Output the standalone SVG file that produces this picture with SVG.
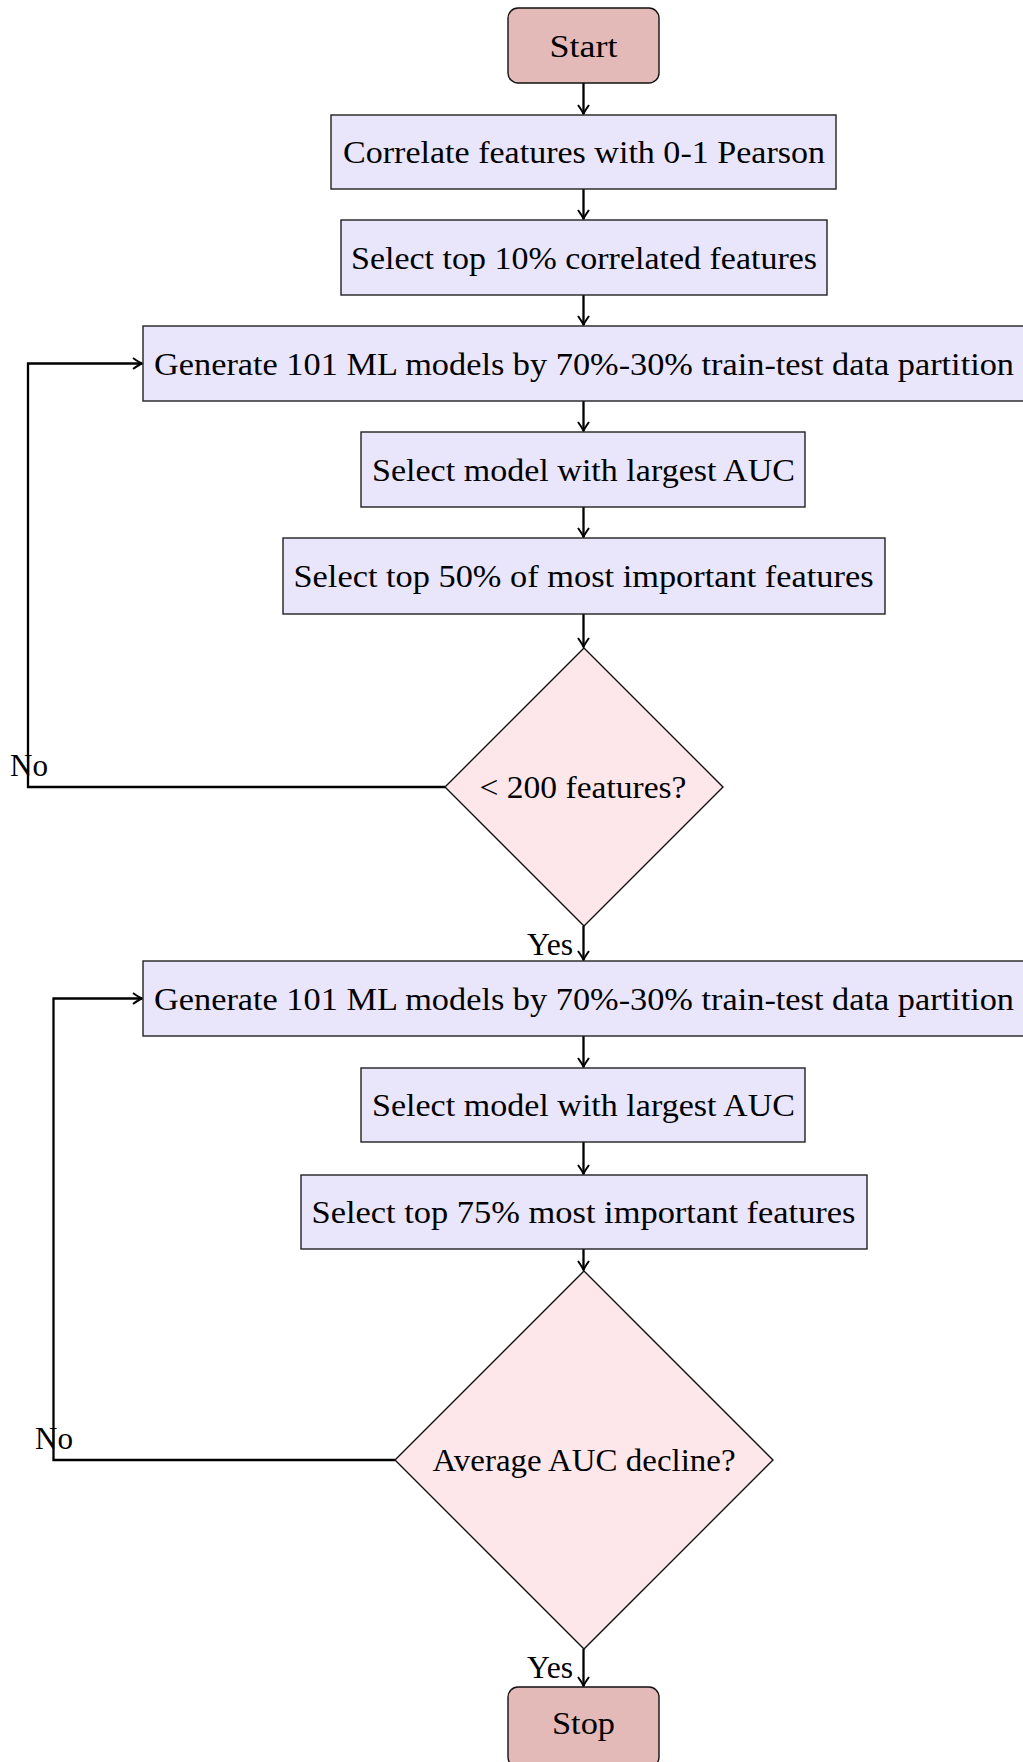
<svg xmlns="http://www.w3.org/2000/svg" width="1023" height="1762" viewBox="0 0 1023 1762">
<style>
.proc{fill:#E9E5FB;stroke:#222;stroke-width:1.4}
.term{fill:#E4BAB9;stroke:#111;stroke-width:1.4}
.dec{fill:#FDE7EA;stroke:#111;stroke-width:1.4}
.t{font-family:"Liberation Serif","Times New Roman",serif;font-size:32px;fill:#000}
.c{text-anchor:middle}
.e{fill:none;stroke:#000;stroke-width:2.3}
</style>
<defs>
<marker id="arr" markerUnits="userSpaceOnUse" markerWidth="16" markerHeight="16" viewBox="-12 -8 16 16" refX="0" refY="0" orient="auto">
<path d="M-9,-5.5 Q-3,-1.2 0,0 Q-3,1.2 -9,5.5" fill="none" stroke="#000" stroke-width="2"/>
</marker>
</defs>
<rect width="1023" height="1762" fill="#fff"/>
<g id="connectors">
<path class="e" marker-end="url(#arr)" d="M583.5,83 V114"/>
<path class="e" marker-end="url(#arr)" d="M583.5,189 V219"/>
<path class="e" marker-end="url(#arr)" d="M583.5,295 V325"/>
<path class="e" marker-end="url(#arr)" d="M583.5,401 V431"/>
<path class="e" marker-end="url(#arr)" d="M583.5,507 V537"/>
<path class="e" marker-end="url(#arr)" d="M583.5,614 V647"/>
<path class="e" marker-end="url(#arr)" d="M583.5,926 V960"/>
<path class="e" marker-end="url(#arr)" d="M583.5,1036 V1067"/>
<path class="e" marker-end="url(#arr)" d="M583.5,1142 V1174"/>
<path class="e" marker-end="url(#arr)" d="M583.5,1249 V1270"/>
<path class="e" marker-end="url(#arr)" d="M583.5,1649 V1686"/>
<path class="e" marker-end="url(#arr)" d="M445,787 H28 V363.5 H142"/>
<path class="e" marker-end="url(#arr)" d="M395,1460 H53.5 V998.5 H142"/>
<text class="t" x="10" y="776" textLength="38" lengthAdjust="spacingAndGlyphs">No</text>
<text class="t" x="35" y="1449" textLength="38" lengthAdjust="spacingAndGlyphs">No</text>
<text class="t" x="527" y="955" textLength="46" lengthAdjust="spacingAndGlyphs">Yes</text>
<text class="t" x="527" y="1678" textLength="46" lengthAdjust="spacingAndGlyphs">Yes</text>
</g>
<g id="start">
<rect class="term" x="508" y="8" width="151" height="75" rx="10"/>
<text class="t c" x="583.5" y="57" textLength="68" lengthAdjust="spacingAndGlyphs">Start</text>
</g>
<g id="correlate">
<rect class="proc" x="331" y="115" width="505" height="74"/>
<text class="t c" x="584" y="163" textLength="482" lengthAdjust="spacingAndGlyphs">Correlate features with 0-1 Pearson</text>
</g>
<g id="select10">
<rect class="proc" x="341" y="220" width="486" height="75"/>
<text class="t c" x="584" y="268.5" textLength="466" lengthAdjust="spacingAndGlyphs">Select top 10% correlated features</text>
</g>
<g id="generate1">
<rect class="proc" x="143" y="326" width="900" height="75"/>
<text class="t" x="154" y="374.5" textLength="860" lengthAdjust="spacingAndGlyphs">Generate 101 ML models by 70%-30% train-test data partition</text>
</g>
<g id="selectmodel1">
<rect class="proc" x="361" y="432" width="444" height="75"/>
<text class="t c" x="583.5" y="480.5" textLength="423" lengthAdjust="spacingAndGlyphs">Select model with largest AUC</text>
</g>
<g id="select50">
<rect class="proc" x="283" y="538" width="602" height="76"/>
<text class="t c" x="583.5" y="587" textLength="580" lengthAdjust="spacingAndGlyphs">Select top 50% of most important features</text>
</g>
<g id="decision1">
<polygon class="dec" points="584,648 723,787 584,926 445,787"/>
<text class="t c" x="583" y="798" textLength="207" lengthAdjust="spacingAndGlyphs">&lt; 200 features?</text>
</g>
<g id="generate2">
<rect class="proc" x="143" y="961" width="900" height="75"/>
<text class="t" x="154" y="1009.5" textLength="860" lengthAdjust="spacingAndGlyphs">Generate 101 ML models by 70%-30% train-test data partition</text>
</g>
<g id="selectmodel2">
<rect class="proc" x="361" y="1068" width="444" height="74"/>
<text class="t c" x="583.5" y="1116" textLength="423" lengthAdjust="spacingAndGlyphs">Select model with largest AUC</text>
</g>
<g id="select75">
<rect class="proc" x="301" y="1175" width="566" height="74"/>
<text class="t c" x="583.5" y="1223" textLength="544" lengthAdjust="spacingAndGlyphs">Select top 75% most important features</text>
</g>
<g id="decision2">
<polygon class="dec" points="584,1271 773,1460 584,1649 395,1460"/>
<text class="t c" x="584" y="1471" textLength="303" lengthAdjust="spacingAndGlyphs">Average AUC decline?</text>
</g>
<g id="stop">
<rect class="term" x="508" y="1687" width="151" height="80" rx="10"/>
<text class="t c" x="583.5" y="1734" textLength="63" lengthAdjust="spacingAndGlyphs">Stop</text>
</g>
</svg>
